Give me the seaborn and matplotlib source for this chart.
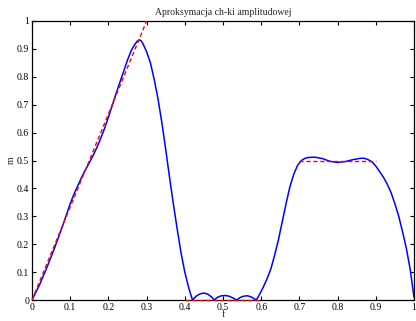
import numpy as np
import pandas as pd
import matplotlib
matplotlib.use("Agg")
import matplotlib.pyplot as plt
from matplotlib.ticker import FormatStrFormatter
import seaborn as sns

# odczytana charakterystyka amplitudowa (niebieska)
f_resp = [0.0, 0.02, 0.04, 0.06, 0.08, 0.10, 0.11, 0.12, 0.13, 0.14, 0.15,
          0.16, 0.17, 0.18, 0.19, 0.20, 0.21, 0.22, 0.23, 0.24, 0.25, 0.26,
          0.27, 0.275, 0.28, 0.285, 0.29, 0.30, 0.31, 0.32, 0.33, 0.34,
          0.35, 0.36, 0.37, 0.38, 0.39, 0.40, 0.41, 0.42,
          0.43, 0.44, 0.45, 0.46, 0.47, 0.477, 0.485, 0.495, 0.506, 0.515,
          0.525, 0.536, 0.545, 0.555, 0.565, 0.575, 0.587,
          0.595, 0.605, 0.615, 0.625, 0.635, 0.645, 0.655, 0.665, 0.675,
          0.685, 0.695, 0.705, 0.715, 0.725, 0.74, 0.76, 0.78, 0.80, 0.82,
          0.84, 0.86, 0.87, 0.88, 0.89, 0.90, 0.91, 0.92, 0.93, 0.94, 0.95,
          0.96, 0.97, 0.98, 0.99, 1.0]
m_resp = [0.0, 0.055, 0.12, 0.19, 0.265, 0.345, 0.38, 0.41, 0.44, 0.467, 0.492,
          0.518, 0.547, 0.58, 0.615, 0.655, 0.697, 0.74, 0.78, 0.82, 0.86, 0.895,
          0.918, 0.927, 0.932, 0.93, 0.92, 0.89, 0.85, 0.79, 0.72, 0.635,
          0.54, 0.44, 0.345, 0.255, 0.17, 0.10, 0.045, 0.0,
          0.014, 0.022, 0.025, 0.021, 0.011, 0.0, 0.009, 0.015, 0.016, 0.014,
          0.008, 0.0, 0.009, 0.014, 0.015, 0.01, 0.0,
          0.018, 0.045, 0.075, 0.11, 0.16, 0.215, 0.28, 0.345, 0.405,
          0.45, 0.482, 0.5, 0.508, 0.511, 0.512, 0.507, 0.497, 0.493, 0.496,
          0.503, 0.508, 0.508, 0.503, 0.495, 0.48, 0.46, 0.44, 0.415, 0.385, 0.345,
          0.30, 0.245, 0.185, 0.11, 0.01]

# charakterystyka zadana (czerwona, przerywana)
f_target = [[0.0, 0.3], [0.4, 0.6], [0.7, 0.9]]
m_target = [[0.0, 1.0], [0.0, 0.0], [0.5, 0.5]]

ticks = [0, 0.1, 0.2, 0.3, 0.4, 0.5, 0.6, 0.7, 0.8, 0.9, 1]

sns.set_style("ticks")
plt.rcParams['font.family'] = ['Liberation Serif', 'DejaVu Serif']
plt.rcParams['xtick.direction'] = 'in'
plt.rcParams['ytick.direction'] = 'in'

fig = plt.figure(figsize=(4.16, 3.21), dpi=100)
ax = fig.add_axes([32 / 416, 21 / 321, 382 / 416, 279 / 321])

df = pd.DataFrame({"f": f_resp, "m": m_resp})
sns.lineplot(data=df, x="f", y="m", ax=ax, color="blue", linewidth=1.1,
             estimator=None, sort=False)

for fx, my in zip(f_target, m_target):
    sns.lineplot(x=fx, y=my, ax=ax, color="red", linewidth=1.0,
                 linestyle=(0, (3, 2)), estimator=None, sort=False,
                 zorder=5, clip_on=False)

ax.set_xlim(0, 1)
ax.set_ylim(0, 1)
ax.set_xticks(ticks)
ax.set_yticks(ticks)
ax.xaxis.set_major_formatter(FormatStrFormatter('%g'))
ax.yaxis.set_major_formatter(FormatStrFormatter('%g'))
ax.tick_params(axis='both', which='both', direction='in', length=3, width=0.8,
               labelsize=7, top=True, right=True, pad=2, colors='black')
for s in ax.spines.values():
    s.set_visible(True)
    s.set_linewidth(0.9)
    s.set_color('black')

ax.set_title("Aproksymacja ch-ki amplitudowej", fontsize=7, pad=4)
ax.set_xlabel("f", fontsize=7, labelpad=-1)
ax.set_ylabel("m", fontsize=7, labelpad=1)

fig.savefig("out.png", dpi=100)
